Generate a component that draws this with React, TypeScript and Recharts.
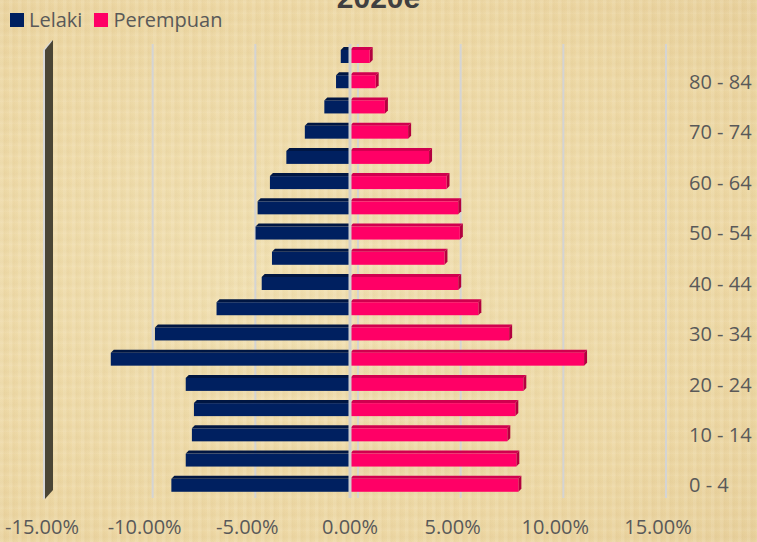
import React from "react";
import { BarChart, Bar, XAxis, YAxis, CartesianGrid, ReferenceLine } from "recharts";

const ageGroups = ["0 - 4", "5 - 9", "10 - 14", "15 - 19", "20 - 24", "25 - 29", "30 - 34", "35 - 39", "40 - 44", "45 - 49", "50 - 54", "55 - 59", "60 - 64", "65 - 69", "70 - 74", "75 - 79", "80 - 84", "85+"];
const lelaki = [8.7, 8.0, 7.7, 7.6, 8.0, 11.65, 9.5, 6.5, 4.3, 3.8, 4.6, 4.5, 3.9, 3.1, 2.2, 1.25, 0.68, 0.45];
const perempuan = [8.2, 8.1, 7.66, 8.05, 8.44, 11.4, 7.75, 6.25, 5.27, 4.6, 5.35, 5.27, 4.7, 3.85, 2.83, 1.7, 1.25, 0.96];
const xTicks = [-15, -10, -5, 0, 5, 10, 15];

const data = ageGroups.map((g, i) => ({ age: g, lelaki: -lelaki[i], perempuan: perempuan[i] }));

const BLUE = "#002060";
const PINK = "#ff0066";
const FONT = "'Open Sans', 'Noto Sans', sans-serif";
const GREY = "#595959";

function pct(v: number) {
  return v.toFixed(2) + "%";
}

// flat 3d-ish bar: front face + thin top face, plus side face for positive bars
function Bar3D(props: any) {
  const { x, y, width, height, fill, top, side } = props;
  if (width == null || height == null) return null;
  const left = Math.min(x, x + width);
  const w = Math.abs(width);
  const d = 3;
  const isRight = width > 0 && props.dataKey === "perempuan";
  return (
    <g>
      <polygon points={`${left},${y} ${left + d},${y - d} ${left + w + (isRight ? d : 0)},${y - d} ${left + w},${y}`} fill={top} />
      {isRight && (
        <polygon points={`${left + w},${y} ${left + w + d},${y - d} ${left + w + d},${y + height - d} ${left + w},${y + height}`} fill={side} />
      )}
      <rect x={left} y={y} width={w} height={height} fill={fill} />
    </g>
  );
}

function Wall(props: any) {
  const { x1, y1, y2 } = props;
  const top = Math.min(y1, y2);
  const bot = Math.max(y1, y2);
  const l = x1 + 2;
  return (
    <g>
      <polygon points={`${l - 1},${top + 6} ${l + 8},${top - 4} ${l + 8},${bot - 8} ${l - 1},${bot + 2}`} fill="#d8d8d8" />
      <polygon points={`${l + 1},${top + 6} ${l + 9},${top - 4} ${l + 9},${bot - 8} ${l + 1},${bot + 1}`} fill="#4a4535" />
    </g>
  );
}

function LegendBox() {
  const items = [
    { name: "Lelaki", color: BLUE },
    { name: "Perempuan", color: PINK },
  ];
  return (
    <div style={{ position: "absolute", top: 6, left: 10, display: "flex", alignItems: "center", fontFamily: FONT, fontSize: 20, color: GREY }}>
      {items.map((it) => (
        <div key={it.name} style={{ display: "flex", alignItems: "center", marginRight: 12 }}>
          <span style={{ display: "inline-block", width: 14, height: 14, background: it.color, marginRight: 5 }} />
          <span>{it.name}</span>
        </div>
      ))}
    </div>
  );
}

export default function App() {
  const W = 757;
  const H = 542;
  const margin = { top: 44, right: 9, left: 42, bottom: 14 };
  return (
    <div
      style={{
        position: "absolute",
        top: 0,
        left: 0,
        width: W,
        height: H,
        overflow: "hidden",
        background:
          "repeating-linear-gradient(90deg, rgba(255,255,255,0.07) 0px, rgba(255,255,255,0.07) 3px, rgba(160,120,50,0.04) 4px, rgba(160,120,50,0) 9px), repeating-linear-gradient(0deg, rgba(255,255,255,0.05) 0px, rgba(160,120,50,0.04) 5px, rgba(255,255,255,0) 11px), radial-gradient(ellipse at 40% 50%, #f2e2b4 0%, #eed9a6 70%, #e9d29e 100%)",
      }}
    >
      <div
        style={{
          position: "absolute",
          top: -17,
          left: 0,
          width: W,
          textAlign: "center",
          fontFamily: "'Liberation Sans', Arial, sans-serif",
          fontWeight: 700,
          fontSize: 30,
          lineHeight: 1,
          color: "#404040",
        }}
      >
        2020e
      </div>
      <BarChart
        width={W}
        height={H}
        data={data}
        layout="vertical"
        stackOffset="sign"
        margin={margin}
        barCategoryGap={0}
        style={{ position: "absolute", top: 0, left: 0 }}
      >
        <CartesianGrid
          horizontal={false}
          stroke="#d4d4d4"
          strokeWidth={2}
          verticalCoordinatesGenerator={({ offset }: any) =>
            xTicks.slice(1).map((v) => offset.left + ((v + 15) / 30) * offset.width + 8)
          }
        />
        <XAxis
          type="number"
          domain={[-15, 15]}
          ticks={xTicks}
          tickFormatter={pct}
          axisLine={false}
          tickLine={false}
          height={30}
          tickMargin={16}
          tick={{ fill: GREY, fontSize: 20, fontFamily: FONT }}
          interval={0}
        />
        <YAxis
          type="category"
          dataKey="age"
          orientation="right"
          reversed
          interval={1}
          width={90}
          axisLine={false}
          tickLine={false}
          tickMargin={25}
          tick={{ fill: GREY, fontSize: 20, fontFamily: FONT, textAnchor: "start" }}
        />
        <ReferenceLine x={-15} shape={(p: any) => <Wall {...p} />} />
        <Bar
          dataKey="lelaki"
          name="Lelaki"
          stackId="a"
          fill={BLUE}
          barSize={13}
          isAnimationActive={false}
          shape={(p: any) => <Bar3D {...p} dataKey="lelaki" top="#001642" side="#001642" />}
        />
        <Bar
          dataKey="perempuan"
          name="Perempuan"
          stackId="a"
          fill={PINK}
          barSize={13}
          isAnimationActive={false}
          shape={(p: any) => <Bar3D {...p} dataKey="perempuan" top="#d0004f" side="#b3003f" />}
        />
        <ReferenceLine x={0} stroke="#cfcfcf" strokeWidth={3} />
      </BarChart>
      <LegendBox />
    </div>
  );
}
